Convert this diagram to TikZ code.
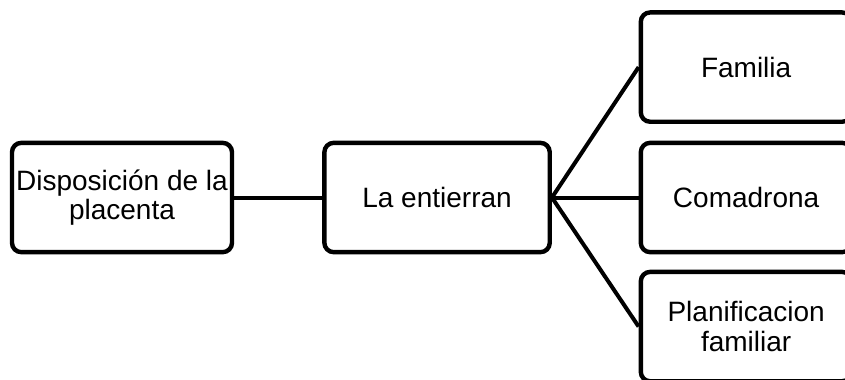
\documentclass[tikz,border=0pt]{standalone}
\usepackage{fontspec}
\setmainfont{Liberation Sans}
\usetikzlibrary{positioning}
\tikzset{
  caja/.style={rectangle, rounded corners=7pt, draw=black, line width=3.3pt, fill=white, minimum width=158pt, minimum height=82pt, align=center, inner sep=0pt, font=\fontsize{21}{22}\selectfont},
  linea/.style={line width=3pt, black}
}
\begin{document}
\begin{tikzpicture}[x=0.75pt,y=-0.75pt]
  \useasboundingbox (0,0) rectangle (845,379);
  % Nodo de partida
  \node[caja, minimum width=165pt] (disposicion) at (122,197.5) {Disposición de la\\placenta};
  \node[caja, minimum width=169pt, right=66pt of disposicion] (entierran) {La entierran};
  % Columna de la derecha
  \node[caja, right=65pt of entierran] (comadrona) {Comadrona};
  \node[caja, above=12.5pt of comadrona] (familia) {Familia};
  \node[caja, below=11.5pt of comadrona] (planificacion) {Planificacion\\familiar};
  % Conectores
  \draw[linea] (disposicion.east) -- (entierran.west);
  \draw[linea] (entierran.east) -- (familia.west);
  \draw[linea] (entierran.east) -- (comadrona.west);
  \draw[linea] (entierran.east) -- (planificacion.west);
\end{tikzpicture}
\end{document}
